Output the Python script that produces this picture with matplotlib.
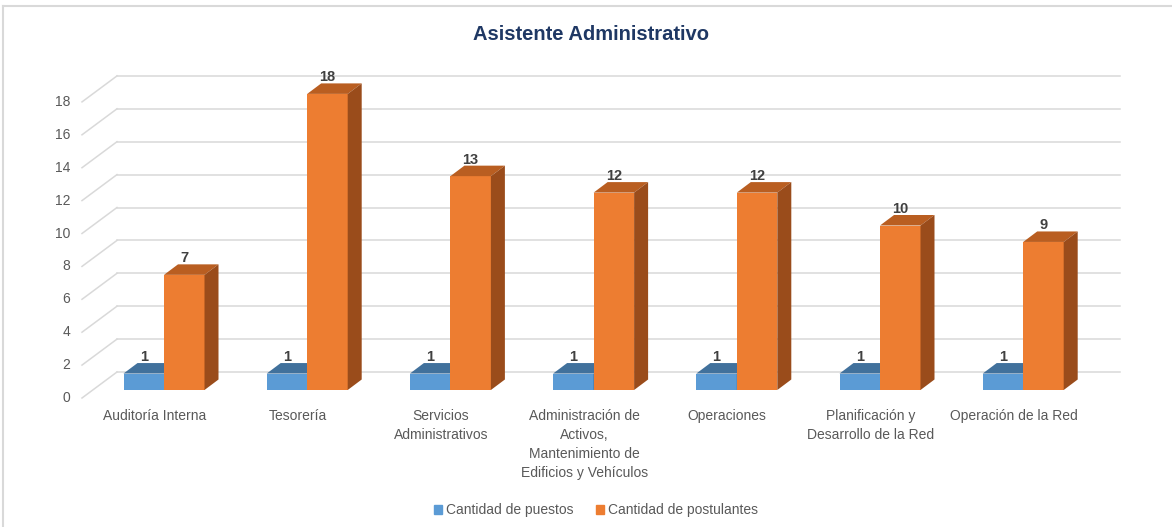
import matplotlib.pyplot as plt
from matplotlib.patches import Patch
from matplotlib.lines import Line2D

plt.rcParams['font.family'] = ['Liberation Sans', 'DejaVu Sans']

# datos
categorias = ['Auditoría Interna', 'Tesorería', 'Servicios\nAdministrativos',
              'Administración de\nActivos,\nMantenimiento de\nEdificios y Vehículos',
              'Operaciones', 'Planificación y\nDesarrollo de la Red', 'Operación de la Red']
puestos = [1, 1, 1, 1, 1, 1, 1]
postulantes = [7, 18, 13, 12, 12, 10, 9]
ticks_y = [0, 2, 4, 6, 8, 10, 12, 14, 16, 18]

W, H = 1172, 527
SX, SY = 143.2, 16.45          # pixeles por categoria / por unidad
X0, Y0 = 164, 390              # centro del par 0, base de barras

fig = plt.figure(figsize=(W / 100, H / 100), dpi=100)
ax = fig.add_axes([0, 0, 1, 1])
ax.set_xlim(-X0 / SX, (W - X0) / SX)
ax.set_ylim(-(H - Y0) / SY, Y0 / SY)
ax.axis('off')

# geometria 3D (en unidades de datos)
bw = 40.5 / SX                 # ancho de barra
ddx, ddy = 14 / SX, 10.5 / SY  # profundidad de barra
back_x0, back_x1 = (117 - X0) / SX, (1120 - X0) / SX
back_dy = 18 / SY
front_x, front_dy = (82 - X0) / SX, -8 / SY

grid_c = '#D9D9D9'
for v in ticks_y:
    ax.plot([back_x0, back_x1], [v + back_dy, v + back_dy], color=grid_c, lw=1.1, zorder=1)
    ax.plot([front_x, back_x0], [v + front_dy, v + back_dy], color=grid_c, lw=1.1, zorder=1)
    ax.text(front_x - 12 / SX, v + front_dy, str(v), ha='right', va='center',
            fontsize=10, color='#595959')


def barra(x, h, front, top, side, z):
    ax.fill([x, x + bw, x + bw, x], [0, 0, h, h], color=front, lw=0, zorder=z)
    ax.fill([x, x + bw, x + bw + ddx, x + ddx], [h, h, h + ddy, h + ddy],
            color=top, lw=0, zorder=z)
    ax.fill([x + bw, x + bw + ddx, x + bw + ddx, x + bw], [0, ddy, h + ddy, h],
            color=side, lw=0, zorder=z)
    ax.text(x + bw / 2, h + ddy + 6 / SY, str(h), ha='center', va='center',
            fontsize=10.5, fontweight='bold', color='#404040', zorder=5)


for i, (p, q) in enumerate(zip(puestos, postulantes)):
    barra(i - bw, p, '#5B9BD5', '#41719C', '#3A6690', 2)
    barra(i, q, '#ED7D31', '#B95E21', '#9A4C1B', 3)
    ax.text(i - 9.5 / SX, -19 / SY, categorias[i], ha='center', va='top',
            fontsize=10, color='#595959', linespacing=1.45)

ax.text((591 - X0) / SX, (Y0 - 34) / SY, 'Asistente Administrativo', ha='center',
        va='center', fontsize=14.5, fontweight='bold', color='#1F3864')

handles = [Patch(color='#5B9BD5', label='Cantidad de puestos'),
           Patch(color='#ED7D31', label='Cantidad de postulantes')]
fig.legend(handles=handles, loc='center', bbox_to_anchor=(596 / W, 1 - 510 / H),
           ncol=2, frameon=False, fontsize=10, handlelength=0.6, handleheight=0.6,
           handletextpad=0.3, columnspacing=1.6, labelcolor='#595959')

# borde del grafico
fig.add_artist(Line2D([2.5 / W, 2.5 / W], [0, 1 - 6 / H], transform=fig.transFigure,
                      color=grid_c, lw=1.5))
fig.add_artist(Line2D([2.5 / W, 1], [1 - 6 / H, 1 - 6 / H], transform=fig.transFigure,
                      color=grid_c, lw=1.5))

fig.savefig('out.png', dpi=100)
